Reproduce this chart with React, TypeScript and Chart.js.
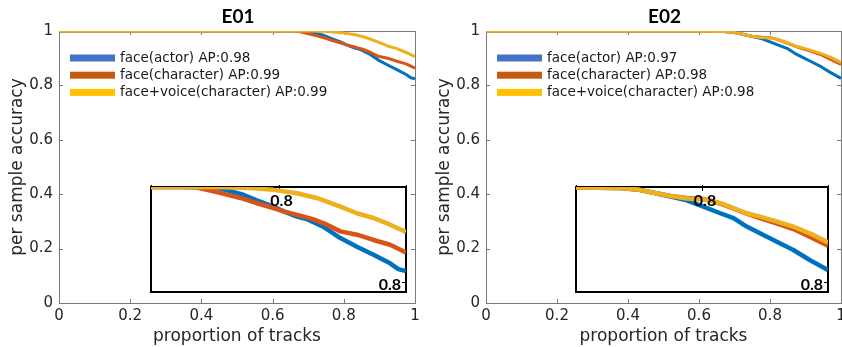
import React, { useEffect, useRef } from 'react';
import { Chart, registerables } from 'chart.js';

Chart.register(...registerables);

// ---------- data ----------
const seriesLabels = ['face(actor)', 'face(character)', 'face+voice(character)'];
const e01AP = ['0.98', '0.99', '0.99'];
const e02AP = ['0.97', '0.98', '0.98'];
const lineColors = ['#0072BD', '#D95319', '#EDB120'];
const legendColors = ['#4472C4', '#C55A11', '#FFC000'];

// E01
const e01ActorX = [0, 0.70, 0.742, 0.766, 0.792, 0.808, 0.829, 0.844, 0.870, 0.897, 0.923, 0.949, 0.975, 0.988, 1.0];
const e01ActorY = [1, 1, 0.985, 0.972, 0.959, 0.949, 0.938, 0.933, 0.917, 0.893, 0.875, 0.858, 0.840, 0.828, 0.824];
const e01CharX = [0, 0.65, 0.672, 0.698, 0.719, 0.740, 0.766, 0.792, 0.808, 0.834, 0.855, 0.876, 0.897, 0.923, 0.949, 0.975, 1.0];
const e01CharY = [1, 1, 0.999, 0.991, 0.984, 0.977, 0.966, 0.956, 0.949, 0.940, 0.932, 0.921, 0.907, 0.900, 0.889, 0.879, 0.863];
const e01VoiceX = [0, 0.70, 0.756, 0.792, 0.829, 0.860, 0.897, 0.923, 0.949, 0.975, 1.0];
const e01VoiceY = [1, 1, 0.998, 0.994, 0.987, 0.977, 0.959, 0.945, 0.935, 0.921, 0.906];

// E02
const e02ActorX = [0, 0.55, 0.60, 0.67, 0.697, 0.723, 0.750, 0.776, 0.802, 0.829, 0.850, 0.871, 0.892, 0.918, 0.945, 0.971, 1.0];
const e02ActorY = [1, 1, 0.999, 0.998, 0.995, 0.988, 0.980, 0.972, 0.959, 0.945, 0.935, 0.917, 0.903, 0.886, 0.868, 0.847, 0.826];
const e02CharX = [0, 0.55, 0.60, 0.67, 0.697, 0.723, 0.750, 0.776, 0.802, 0.813, 0.829, 0.850, 0.871, 0.892, 0.918, 0.945, 0.971, 1.0];
const e02CharY = [1, 1, 0.999, 0.998, 0.995, 0.988, 0.981, 0.977, 0.975, 0.972, 0.965, 0.955, 0.944, 0.935, 0.924, 0.912, 0.896, 0.877];
const e02VoiceX = [0, 0.55, 0.60, 0.67, 0.697, 0.723, 0.750, 0.776, 0.802, 0.813, 0.829, 0.850, 0.871, 0.892, 0.918, 0.945, 0.971, 1.0];
const e02VoiceY = [1, 1, 0.999, 0.998, 0.995, 0.988, 0.981, 0.976, 0.974, 0.972, 0.966, 0.956, 0.945, 0.938, 0.928, 0.917, 0.903, 0.884];

const xTickValues = [0, 0.2, 0.4, 0.6, 0.8, 1];
const xTickLabels = ['0', '0.2', '0.4', '0.6', '0.8', '1'];
const yTickValues = [0, 0.2, 0.4, 0.6, 0.8, 1];
const yTickLabels = ['0', '0.2', '0.4', '0.6', '0.8', '1'];
const insetXRange = [0.6, 1.0];
const insetYRange = [0.78, 1.0];
const insetTickValue = 0.8;
const insetTickLabel = '0.8';
const xTitle = 'proportion of tracks';
const yTitle = 'per sample accuracy';

type Series = { x: number[]; y: number[] };

const e01Series: Series[] = [
  { x: e01ActorX, y: e01ActorY },
  { x: e01CharX, y: e01CharY },
  { x: e01VoiceX, y: e01VoiceY },
];
const e02Series: Series[] = [
  { x: e02ActorX, y: e02ActorY },
  { x: e02CharX, y: e02CharY },
  { x: e02VoiceX, y: e02VoiceY },
];

const FONT = 'DejaVu Sans';
const TEXT = '#262626';

function buildDatasets(series: Series[], ap: string[], width: number) {
  return series.map((s, i) => ({
    label: `${seriesLabels[i]} AP:${ap[i]}`,
    data: s.x.map((x, j) => ({ x, y: s.y[j] })),
    borderColor: lineColors[i],
    backgroundColor: lineColors[i],
    borderWidth: width,
    pointRadius: 0,
    tension: 0,
    fill: false,
    order: 3 - i,
    borderJoinStyle: 'round' as const,
    borderCapStyle: 'butt' as const,
  }));
}

const mainDecor = {
  id: 'mainDecor',
  beforeDatasetsDraw(chart: any) {
    const { ctx, chartArea: a, scales } = chart;
    ctx.save();
    ctx.strokeStyle = '#7a7a7a';
    ctx.lineWidth = 1;
    ctx.strokeRect(Math.round(a.left) + 0.5, Math.round(a.top) + 0.5, Math.round(a.right - a.left), Math.round(a.bottom - a.top));
    ctx.beginPath();
    xTickValues.forEach((v) => {
      const px = Math.round(scales.x.getPixelForValue(v)) + 0.5;
      ctx.moveTo(px, a.bottom); ctx.lineTo(px, a.bottom - 4);
      ctx.moveTo(px, a.top); ctx.lineTo(px, a.top + 4);
    });
    yTickValues.forEach((v) => {
      const py = Math.round(scales.y.getPixelForValue(v)) + 0.5;
      ctx.moveTo(a.left, py); ctx.lineTo(a.left + 4, py);
      ctx.moveTo(a.right, py); ctx.lineTo(a.right - 4, py);
    });
    ctx.stroke();
    ctx.restore();
  },
  afterDatasetsDraw(chart: any, _args: any, opts: any) {
    const { ctx, chartArea: a } = chart;
    ctx.save();
    // title
    ctx.fillStyle = '#000';
    ctx.font = 'bold 19px Lato';
    ctx.textAlign = 'center';
    ctx.textBaseline = 'alphabetic';
    ctx.fillText(opts.title, (a.left + a.right) / 2 + 1, 23);
    // legend
    ctx.font = `13.5px "${FONT}"`;
    ctx.textAlign = 'left';
    ctx.textBaseline = 'middle';
    chart.data.datasets.forEach((ds: any, i: number) => {
      const cy = a.top + 27 + i * 17.2;
      ctx.fillStyle = legendColors[i];
      ctx.fillRect(a.left + 11, cy - 3.5, 45, 7);
      ctx.fillStyle = '#1a1a1a';
      ctx.fillText(ds.label, a.left + 61, cy);
    });
    ctx.restore();
  },
};

const insetDecor = {
  id: 'insetDecor',
  beforeDraw(chart: any) {
    const { ctx, chartArea: a } = chart;
    ctx.save();
    ctx.fillStyle = '#fff';
    ctx.fillRect(a.left, a.top, a.right - a.left, a.bottom - a.top);
    ctx.restore();
  },
  beforeDatasetsDraw(chart: any) {
    const { ctx, chartArea: a, scales } = chart;
    ctx.save();
    ctx.strokeStyle = '#000';
    ctx.lineWidth = 2;
    ctx.strokeRect(a.left, a.top, a.right - a.left, a.bottom - a.top);
    ctx.lineWidth = 1;
    ctx.beginPath();
    [insetXRange[0], insetTickValue, insetXRange[1]].forEach((v) => {
      const px = Math.round(scales.x.getPixelForValue(v)) + 0.5;
      ctx.moveTo(px, a.top - 2); ctx.lineTo(px, a.top + 4);
    });
    const py = Math.round(scales.y.getPixelForValue(insetTickValue)) + 0.5;
    ctx.moveTo(a.right, py); ctx.lineTo(a.right - 4, py);
    ctx.stroke();
    ctx.restore();
  },
  afterDatasetsDraw(chart: any) {
    const { ctx, chartArea: a, scales } = chart;
    ctx.save();
    ctx.fillStyle = '#000';
    ctx.font = 'bold 16px Lato';
    ctx.textBaseline = 'middle';
    ctx.textAlign = 'center';
    ctx.fillText(insetTickLabel, scales.x.getPixelForValue(insetTickValue) + 3, a.top + 14);
    ctx.textAlign = 'right';
    ctx.fillText(insetTickLabel, a.right - 5, scales.y.getPixelForValue(insetTickValue) + 2);
    ctx.restore();
  },
};

function MainPanel(props: { left: number; padRight: number; title: string; series: Series[]; ap: string[] }) {
  const ref = useRef<HTMLCanvasElement>(null);
  useEffect(() => {
    const chart = new Chart(ref.current!, {
      type: 'line',
      data: { datasets: buildDatasets(props.series, props.ap, 3) as any },
      options: {
        responsive: false,
        animation: false,
        devicePixelRatio: 1,
        layout: { padding: { left: 0, top: 31, right: props.padRight, bottom: 0 } },
        plugins: {
          legend: { display: false },
          tooltip: { enabled: false },
          title: { display: false },
          mainDecor: { title: props.title },
        } as any,
        scales: {
          x: {
            type: 'linear',
            min: 0,
            max: 1,
            afterFit: (s: any) => { s.height = 44; },
            afterBuildTicks: (s: any) => { s.ticks = xTickValues.map((v) => ({ value: v })); },
            ticks: {
              padding: 4,
              color: TEXT,
              font: { family: FONT, size: 15 },
              autoSkip: false,
              maxRotation: 0,
              callback: (_v: any, i: number) => xTickLabels[i],
            },
            grid: { display: false, drawTicks: false },
            border: { display: false },
            title: { display: true, text: xTitle, color: TEXT, font: { family: FONT, size: 17 }, padding: { top: 0, bottom: 0 } },
          },
          y: {
            type: 'linear',
            min: 0,
            max: 1,
            afterFit: (s: any) => { s.width = 59; },
            afterBuildTicks: (s: any) => { s.ticks = yTickValues.map((v) => ({ value: v })); },
            ticks: {
              padding: 6,
              color: TEXT,
              font: { family: FONT, size: 15 },
              autoSkip: false,
              callback: (_v: any, i: number) => yTickLabels[i],
            },
            grid: { display: false, drawTicks: false },
            border: { display: false },
            title: { display: true, text: yTitle, color: TEXT, font: { family: FONT, size: 17 }, padding: { top: 7, bottom: 0 } },
          },
        },
      } as any,
      plugins: [mainDecor],
    });
    return () => chart.destroy();
  }, []);
  return (
    <canvas
      ref={ref}
      width={430}
      height={347}
      style={{ position: 'absolute', left: props.left, top: 0, width: 430, height: 347 }}
    />
  );
}

function InsetPanel(props: { left: number; top: number; width: number; height: number; series: Series[]; ap: string[] }) {
  const ref = useRef<HTMLCanvasElement>(null);
  useEffect(() => {
    const chart = new Chart(ref.current!, {
      type: 'line',
      data: { datasets: buildDatasets(props.series, props.ap, 4.5) as any },
      options: {
        responsive: false,
        animation: false,
        devicePixelRatio: 1,
        layout: { padding: 10 },
        plugins: { legend: { display: false }, tooltip: { enabled: false }, title: { display: false } },
        scales: {
          x: { type: 'linear', display: false, min: insetXRange[0], max: insetXRange[1] },
          y: { type: 'linear', display: false, min: insetYRange[0], max: insetYRange[1] },
        },
      } as any,
      plugins: [insetDecor],
    });
    return () => chart.destroy();
  }, []);
  return (
    <canvas
      ref={ref}
      width={props.width + 20}
      height={props.height + 20}
      style={{ position: 'absolute', left: props.left - 10, top: props.top - 10, width: props.width + 20, height: props.height + 20 }}
    />
  );
}

export default function App() {
  return (
    <div style={{ position: 'fixed', left: 0, top: 0, width: 842, height: 347, overflow: 'hidden', background: '#fff' }}>
      <MainPanel left={0} padRight={15} title="E01" series={e01Series} ap={e01AP} />
      <MainPanel left={427} padRight={16} title="E02" series={e02Series} ap={e02AP} />
      <InsetPanel left={151} top={187} width={255} height={105} series={e01Series} ap={e01AP} />
      <InsetPanel left={576} top={187} width={252} height={105} series={e02Series} ap={e02AP} />
    </div>
  );
}
